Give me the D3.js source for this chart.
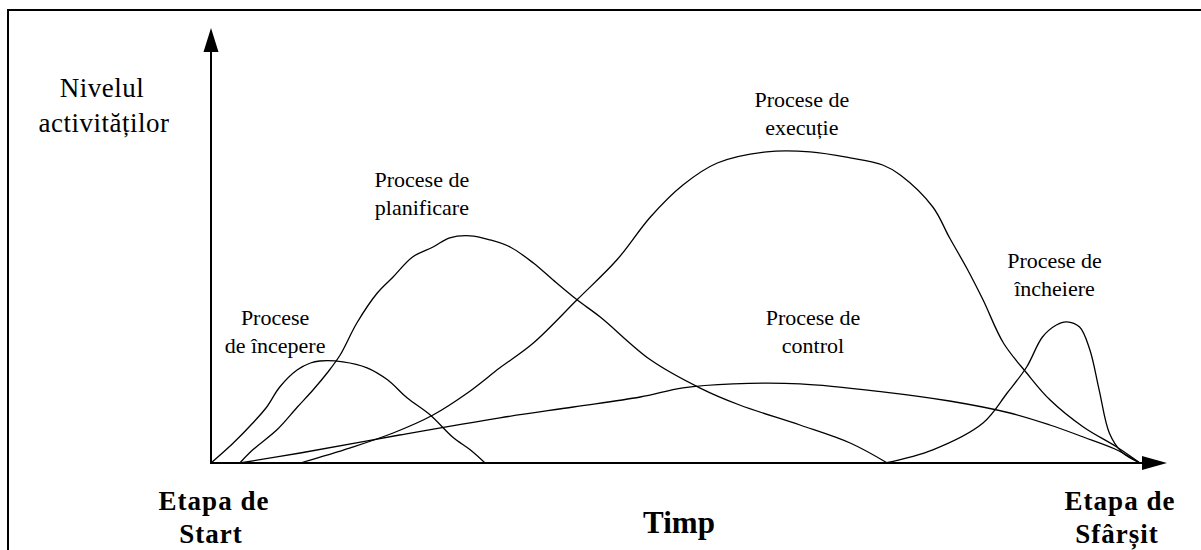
<!DOCTYPE html>
<html>
<head>
<meta charset="utf-8">
<script src="https://cdn.jsdelivr.net/npm/d3@7"></script>
<style>
  html, body { margin: 0; padding: 0; background: #fff; }
  svg { display: block; }
  .lbl { font-family: "Liberation Serif", "Times New Roman", serif; fill: #000; }
</style>
</head>
<body>
<svg id="chart" width="1201" height="550"></svg>
<script>
// ---- Data (time 0..100, activity level 0..100) ----
const seriesNames = ["Procese de începere", "Procese de planificare", "Procese de execuție", "Procese de control", "Procese de încheiere"];

const initiationX = [0, 2.4, 4.5, 6, 7.4, 9.3, 10.7, 11.7, 14.2, 16.8, 19, 21.1, 23.6, 26, 27.9, 29.5];
const initiationY = [0, 5, 10, 14, 19, 23.3, 25, 25.5, 25.3, 23.8, 20.8, 16.3, 12, 6.5, 3.3, 0];

const planningX = [3.1, 4.5, 7.1, 9.3, 11, 12.5, 13.9, 15.7, 17.9, 19.6, 21.7, 23.9, 25.7, 27.9, 30, 32.2, 34.7, 36.8, 39.4, 41.9, 47.3, 52.6, 56.9, 63.4, 68.8, 72.8];
const planningY = [0, 3.3, 8.3, 14, 18.3, 22.5, 27, 35, 42.5, 46.5, 51.5, 54, 56.3, 56.8, 55.8, 54, 50, 45.8, 40.8, 36.5, 25.8, 18.8, 14.5, 9.5, 5, 0];

const executionX = [9.6, 15, 19.6, 23.9, 27.6, 31.1, 34.7, 39.4, 43.7, 47.3, 50.8, 54.5, 59.8, 64.5, 68.8, 72.3, 74.2, 77.7, 79.5, 81.4, 83.1, 85.3, 87.8, 90.3, 93.9, 97.5, 100];
const executionY = [0, 3.8, 7.5, 12, 17.5, 23.8, 30, 40.8, 50.8, 61.5, 69.5, 75, 77.8, 77.8, 76.3, 74.5, 72, 64, 56.3, 48.5, 40.8, 30, 22.5, 15.8, 9, 4, 0];

const controlX = [3.1, 9.6, 20.3, 31.1, 39, 46.2, 50.8, 56.2, 63.4, 72.3, 79.5, 86, 90.3, 93.9, 97.3, 100];
const controlY = [0, 2.5, 7, 11.3, 14, 16.5, 18.8, 19.8, 19.8, 17.8, 15.5, 12.5, 9.5, 6.5, 3.5, 0];

const closingX = [72.6, 77.7, 83.1, 85.7, 87.8, 89.5, 91, 92.1, 93.5, 94.6, 95.6, 96.7, 98, 100];
const closingY = [0, 3.3, 10, 17.5, 24, 31.5, 34.5, 35.3, 34, 28.3, 18.3, 7.5, 2.8, 0];

// label text lines and anchors (time, level)
const labelLines = [
  ["Procese", "de începere"],
  ["Procese de", "planificare"],
  ["Procese de", "execuție"],
  ["Procese de", "control"],
  ["Procese de", "încheiere"]
];
const labelX = [6.9, 22.7, 63.6, 64.8, 90.8];
const labelY = [34.5, 69, 89, 34.5, 48.75];

const yTitle = ["Nivelul", "activităților"];
const xTitle = "Timp";
const startLabel = ["Etapa de", "Start"];
const endLabel = ["Etapa de", "Sfârșit"];

// ---- Drawing ----
const svg = d3.select("#chart");
const x = d3.scaleLinear().domain([0, 100]).range([211, 1140]);
const y = d3.scaleLinear().domain([0, 100]).range([463, 63]);

// frame
svg.append("path")
  .attr("d", "M8,560 L8,10 L1210,10")
  .attr("fill", "none").attr("stroke", "#000").attr("stroke-width", 2);

// axes
const x0 = x(0), y0 = y(0);
const xEnd = x(100) + 27;     // arrow tip
const yEnd = y(100) - 35;     // arrow tip
svg.append("line").attr("x1", x0).attr("y1", y0).attr("x2", xEnd - 10).attr("y2", y0)
  .attr("stroke", "#000").attr("stroke-width", 2);
svg.append("line").attr("x1", x0).attr("y1", y0 + 1).attr("x2", x0).attr("y2", yEnd + 10)
  .attr("stroke", "#000").attr("stroke-width", 2);
svg.append("path")
  .attr("d", `M${xEnd},${y0} L${xEnd - 25},${y0 - 7} L${xEnd - 25},${y0 + 7} Z`)
  .attr("fill", "#000");
svg.append("path")
  .attr("d", `M${x0},${yEnd} L${x0 - 7.5},${yEnd + 24} L${x0 + 7.5},${yEnd + 24} Z`)
  .attr("fill", "#000");

// curves
const line = d3.line()
  .x(d => x(d[0]))
  .y(d => y(d[1]))
  .curve(d3.curveCatmullRom.alpha(0.5));

const series = [
  d3.zip(initiationX, initiationY),
  d3.zip(planningX, planningY),
  d3.zip(executionX, executionY),
  d3.zip(controlX, controlY),
  d3.zip(closingX, closingY)
];

svg.selectAll("path.curve")
  .data(series)
  .enter().append("path")
  .attr("class", "curve")
  .attr("d", line)
  .attr("fill", "none")
  .attr("stroke", "#000")
  .attr("stroke-width", 1.3);

// process labels
labelLines.forEach((lines, i) => {
  const t = svg.append("text").attr("class", "lbl")
    .attr("text-anchor", "middle")
    .attr("font-size", 22);
  lines.forEach((s, k) => {
    t.append("tspan")
      .attr("x", x(labelX[i]))
      .attr("y", y(labelY[i]) + k * 28)
      .text(s);
  });
});

// y title
const yt = svg.append("text").attr("class", "lbl").attr("text-anchor", "middle")
  .attr("font-size", 27).attr("letter-spacing", 0.5);
yt.append("tspan").attr("x", 102).attr("y", 97).text(yTitle[0]);
yt.append("tspan").attr("x", 104).attr("y", 132).text(yTitle[1]);

// x title
svg.append("text").attr("class", "lbl").attr("text-anchor", "middle")
  .attr("font-size", 31).attr("font-weight", "bold")
  .attr("x", 679).attr("y", 533).text(xTitle);

// start / end labels
[[startLabel, 214], [endLabel, 1120]].forEach(([lines, cx]) => {
  const t = svg.append("text").attr("class", "lbl").attr("text-anchor", "middle")
    .attr("font-size", 27).attr("font-weight", "bold").attr("letter-spacing", 1);
  t.append("tspan").attr("x", cx).attr("y", 510).text(lines[0]);
  t.append("tspan").attr("x", cx - 3).attr("y", 543).text(lines[1]);
});
</script>
</body>
</html>
